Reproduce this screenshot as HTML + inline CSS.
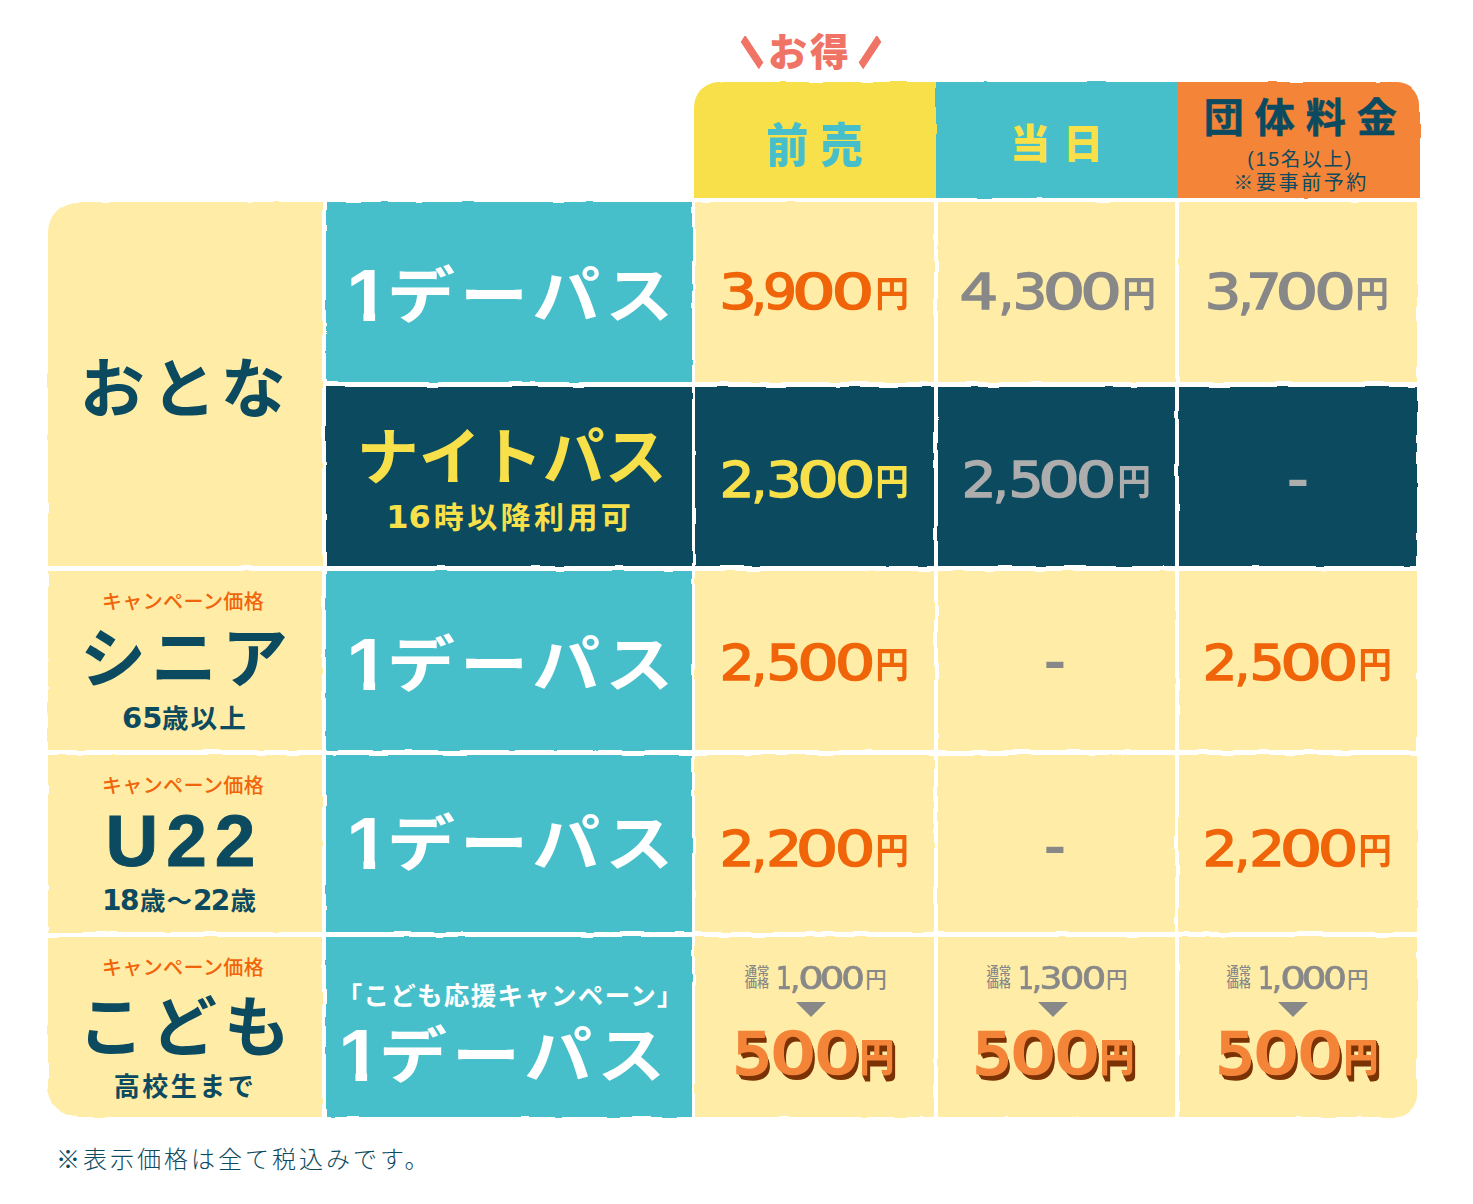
<!DOCTYPE html>
<html lang="ja">
<head>
<meta charset="utf-8">
<title>料金表</title>
<style>
html,body{margin:0;padding:0;background:#fff;}
body{width:1473px;height:1204px;overflow:hidden;position:relative;
  font-family:"Liberation Sans","Noto Sans CJK JP",sans-serif;}
#page{position:absolute;left:0;top:0;width:1473px;height:1204px;background:#fff;overflow:hidden;}
.layer{position:absolute;left:0;top:0;width:1473px;height:1204px;}
#bg{filter:url(#rough);}
.b{position:absolute;}
/* columns */
.c0{left:48px;width:274px;}
.c1{left:326px;width:365.5px;}
.c2{left:695px;width:238.5px;}
.c3{left:937.5px;width:237.5px;}
.c4{left:1179px;width:238px;}
/* rows */
.r1{top:202px;height:180px;}
.r2{top:386.5px;height:179.5px;}
.r3{top:571px;height:179px;}
.r4{top:755px;height:177px;}
.r5{top:937px;height:180px;}
.r12{top:202px;height:364px;}
.pale{background:#FFECA6;}
.teal{background:#47BFCB;}
.navy{background:#0B4A5F;}
.yel{background:#F8E04A;}
.org{background:#F38438;}

/* text layer */
.t{position:absolute;white-space:nowrap;line-height:1;margin:0;padding:0;}
.ctr{text-align:center;}
.navyc{color:#0B4A5F;}

.sl{display:inline-block;vertical-align:top;position:relative;top:4.5px;width:40px;height:36px;color:#F07466;font-weight:900;font-size:23.5px;line-height:36px;letter-spacing:0;text-align:center;-webkit-text-stroke:8.5px #F07466;transform:scaleX(.66);}
/* price */
.pr{position:absolute;white-space:nowrap;height:56px;line-height:56px;font-size:0;}
.pg{display:inline-block;vertical-align:top;position:relative;top:-6px;width:60px;text-align:center;font-family:"DejaVu Sans","Liberation Sans",sans-serif;font-size:49.0px;line-height:56px;height:56px;-webkit-text-stroke:1.5px currentColor;}
.py{display:inline-block;vertical-align:top;position:relative;top:-4.5px;width:60px;text-align:center;font-family:"Liberation Sans","Noto Sans CJK JP",sans-serif;font-weight:700;font-size:35px;line-height:56px;height:56px;transform:scale(.96,1.03);}
.dash{position:absolute;width:40px;margin-left:-20px;height:40px;line-height:40px;text-align:center;font-family:"Liberation Sans",sans-serif;font-weight:700;font-size:52px;color:#888888;transform:scaleX(1.29);}

/* pass labels */
.pass{position:absolute;color:#fff;font-weight:700;font-size:68px;line-height:80px;height:80px;letter-spacing:5px;text-indent:14px;white-space:nowrap;text-align:center;font-family:"Liberation Sans","Noto Sans CJK JP",sans-serif;transform:scaleY(.91);}
.pass .one{display:inline-block;vertical-align:baseline;font-family:"Liberation Sans",sans-serif;font-size:82.0px;line-height:70px;height:70px;width:45.6px;letter-spacing:0;text-indent:0;clip-path:polygon(0 -20px,45.6px -20px,45.6px 53.4px,31.0px 53.4px,31.0px 80px,18.5px 80px,18.5px 53.4px,0 53.4px);margin:0 -4px 0 -8px;position:relative;top:3.6px;transform:scaleX(.93);transform-origin:40% 50%;}
.dg{font-family:"DejaVu Sans","Liberation Sans",sans-serif;font-weight:700;letter-spacing:0;}
.camp{position:absolute;left:46px;width:274px;text-align:center;color:#F0640A;font-weight:500;font-size:20px;line-height:24px;letter-spacing:.4px;white-space:nowrap;}
.big{position:absolute;left:48px;width:274px;text-align:center;color:#0B4A5F;font-weight:700;white-space:nowrap;}
.sub{position:absolute;left:48px;width:274px;text-align:center;color:#0B4A5F;font-weight:700;font-size:26px;line-height:30px;letter-spacing:2.5px;white-space:nowrap;}

/* kids price */
.kl{position:absolute;font-size:12.3px;line-height:12.2px;font-weight:500;color:#888888;white-space:nowrap;}
.kr{position:absolute;white-space:nowrap;height:36px;line-height:36px;font-size:0;color:#888888;}
.kg{display:inline-block;vertical-align:top;position:relative;top:-5.3px;width:40px;text-align:center;font-family:"DejaVu Sans","Liberation Sans",sans-serif;font-size:32.0px;line-height:36px;height:36px;-webkit-text-stroke:0.7px currentColor;}
.ky{display:inline-block;vertical-align:top;position:relative;top:-3.4px;width:40px;text-align:center;font-family:"Liberation Sans","Noto Sans CJK JP",sans-serif;font-weight:500;font-size:21.5px;line-height:36px;height:36px;}
.tri{position:absolute;width:0;height:0;border-left:15px solid transparent;border-right:15px solid transparent;border-top:15px solid #888888;}
.k500{position:absolute;white-space:nowrap;color:#F38438;text-align:center;line-height:70px;height:70px;
 text-shadow:.5px 1px 0 #7B3306,1px 2px 0 #7B3306,1.5px 3px 0 #7B3306,2px 4px 0 #7B3306,2.5px 5px 0 #7B3306,3px 5.5px 0 #7B3306,1px 1px 0 #7B3306,2px 3px 0 #7B3306;}
.k500 .n{display:inline-block;font-family:"DejaVu Sans","Liberation Sans",sans-serif;font-weight:400;font-size:57px;letter-spacing:-1px;-webkit-text-stroke:2.7px #F38438;transform:scaleX(1.25);margin:0 .21em 0 .2em;}
.k500 .five{display:inline-block;transform:scaleX(.86);margin:0 -2.4px 0 -2.4px;}
.k500 .y{display:inline-block;font-family:"Liberation Sans","Noto Sans CJK JP",sans-serif;font-weight:900;font-size:36px;margin-left:1.5px;transform:scale(.97,1.06);transform-origin:50% 50%;position:relative;top:-4px;}
</style>
</head>
<body>
<svg width="0" height="0" style="position:absolute">
  <defs>
    <filter id="rough" x="-2%" y="-2%" width="104%" height="104%" color-interpolation-filters="sRGB">
      <feTurbulence type="fractalNoise" baseFrequency="0.035" numOctaves="2" seed="3" result="n"/>
      <feDisplacementMap in="SourceGraphic" in2="n" scale="3" xChannelSelector="R" yChannelSelector="G" result="d"/>
      <feGaussianBlur in="d" stdDeviation="0.5"/>
    </filter>
  </defs>
</svg>
<div id="page">

<!-- ============ background cells ============ -->
<div id="bg" class="layer">
  <!-- header -->
  <div class="b yel" style="left:693.5px;top:82px;width:243px;height:116px;border-top-left-radius:25px;"></div>
  <div class="b teal" style="left:935.5px;top:82px;width:243px;height:116px;"></div>
  <div class="b org" style="left:1177.3px;top:82px;width:242.7px;height:116px;border-top-right-radius:23px;"></div>
  <!-- col0 -->
  <div class="b pale c0 r12" style="border-top-left-radius:30px;"></div>
  <div class="b pale c0 r3"></div>
  <div class="b pale c0 r4"></div>
  <div class="b pale c0 r5" style="border-bottom-left-radius:30px;"></div>
  <!-- col1 -->
  <div class="b teal c1 r1"></div>
  <div class="b navy c1 r2"></div>
  <div class="b teal c1 r3"></div>
  <div class="b teal c1 r4"></div>
  <div class="b teal c1 r5"></div>
  <!-- col2 -->
  <div class="b pale c2 r1"></div>
  <div class="b navy c2 r2"></div>
  <div class="b pale c2 r3"></div>
  <div class="b pale c2 r4"></div>
  <div class="b pale c2 r5"></div>
  <!-- col3 -->
  <div class="b pale c3 r1"></div>
  <div class="b navy c3 r2"></div>
  <div class="b pale c3 r3"></div>
  <div class="b pale c3 r4"></div>
  <div class="b pale c3 r5"></div>
  <!-- col4 -->
  <div class="b pale c4 r1"></div>
  <div class="b navy c4 r2"></div>
  <div class="b pale c4 r3"></div>
  <div class="b pale c4 r4"></div>
  <div class="b pale c4 r5" style="border-bottom-right-radius:21px;"></div>
</div>

<!-- ============ text ============ -->
<div id="fg" class="layer">

<!-- お得 balloon -->
<div class="t" style="left:732px;top:30.5px;height:44px;color:#F07466;font-weight:900;font-size:39px;line-height:44px;letter-spacing:3px;"><span class="sl" style="margin-right:-4px;">＼</span>お得<span class="sl" style="margin-left:-2px;">／</span></div>

<!-- header labels -->
<div class="t ctr" style="left:693.5px;top:118.5px;width:242px;font-size:42px;line-height:56px;font-weight:900;color:#47BFCB;letter-spacing:12.5px;text-indent:12.5px;transform:scaleY(1.1);">前売</div>
<div class="t ctr" style="left:935.5px;top:115.5px;width:242px;font-size:40px;line-height:56px;font-weight:900;color:#F8E04A;letter-spacing:13px;text-indent:13px;">当日</div>
<div class="t ctr navyc" style="left:1177.3px;top:91.5px;width:242.7px;font-size:40px;line-height:52px;font-weight:700;letter-spacing:11px;text-indent:14px;-webkit-text-stroke:.6px #0B4A5F;">団体料金</div>
<div class="t ctr navyc" style="left:1177.3px;top:147px;width:242.7px;font-size:19.5px;line-height:24px;font-weight:400;letter-spacing:1.8px;text-indent:3px;">(15名以上)</div>
<div class="t ctr navyc" style="left:1177.3px;top:170.5px;width:242.7px;font-size:20px;line-height:24px;font-weight:400;letter-spacing:2.6px;text-indent:5px;">※要事前予約</div>

<!-- left column -->
<div class="big" style="top:352px;font-size:65px;line-height:76px;letter-spacing:6.5px;text-indent:2px;">おとな</div>

<div class="camp" style="top:589.5px;">キャンペーン価格</div>
<div class="big" style="top:621px;font-size:66px;line-height:76px;letter-spacing:5px;text-indent:3px;">シニア</div>
<div class="sub" style="top:703px;font-size:26.5px;letter-spacing:2.2px;text-indent:0;"><span class="dg" style="font-size:29px;margin-right:-.5px;">65</span>歳以上</div>

<div class="camp" style="top:773.5px;">キャンペーン価格</div>
<div class="big" style="top:801px;font-size:73px;line-height:80px;letter-spacing:8px;text-indent:-1px;-webkit-text-stroke:.9px #0B4A5F;">U22</div>
<div class="sub" style="top:886px;font-size:25.5px;letter-spacing:1px;text-indent:-11px;"><span class="dg" style="font-size:28px;letter-spacing:-1.5px;margin-right:2px;">18</span>歳～<span class="dg" style="font-size:28px;letter-spacing:-1.8px;margin-right:2px;">22</span>歳</div>

<div class="camp" style="top:955.5px;">キャンペーン価格</div>
<div class="big" style="top:989.5px;font-size:66px;line-height:76px;letter-spacing:7px;text-indent:5px;">こども</div>
<div class="sub" style="top:1072px;">高校生まで</div>

<!-- pass labels -->
<div class="pass c1" style="top:255.5px;"><span class="one">1</span>デーパス</div>
<div class="t ctr c1" style="top:424px;color:#F8E04A;font-weight:700;font-size:62px;line-height:70px;letter-spacing:0;text-indent:6px;">ナイトパス</div>
<div class="t ctr c1" style="top:499px;color:#F8E04A;font-weight:700;font-size:30px;line-height:36px;letter-spacing:3.4px;text-indent:3px;"><span class="dg" style="font-size:32px;margin-right:3px;">16</span>時以降利用可</div>
<div class="pass c1" style="top:624.5px;"><span class="one">1</span>デーパス</div>
<div class="pass c1" style="top:804px;"><span class="one">1</span>デーパス</div>
<div class="t ctr c1" style="top:979px;color:#fff;font-weight:700;font-size:25.5px;line-height:34px;letter-spacing:1.3px;text-indent:3px;">「こども応援キャンペーン」</div>
<div class="pass c1" style="top:1016px;margin-left:-8px;"><span class="one">1</span>デーパス</div>

<!-- note -->
<div class="t navyc" style="left:56px;top:1142.5px;font-size:24px;line-height:34px;font-weight:300;letter-spacing:3px;">※表示価格は全て税込みです。</div>

<!-- prices row1 -->
<div class="pr" style="left:708.0px;top:271.2px;color:#F0640A;"><span class="pg" style="margin-right:-38.9px;transform:scaleX(1.207);">3</span><span class="pg" style="margin-right:-38.7px;transform:scaleX(1.000);">,</span><span class="pg" style="margin-right:-26.0px;transform:scaleX(1.090);">9</span><span class="pg" style="margin-right:-21.4px;transform:scaleX(1.405);">0</span><span class="pg" style="margin-right:-21.5px;transform:scaleX(1.374);">0</span><span class="py">円</span></div>
<div class="pr" style="left:948.5px;top:271.2px;color:#888888;"><span class="pg" style="margin-right:-32.1px;transform:scaleX(1.243);">4</span><span class="pg" style="margin-right:-36.7px;transform:scaleX(1.000);">,</span><span class="pg" style="margin-right:-26.0px;transform:scaleX(1.107);">3</span><span class="pg" style="margin-right:-22.9px;transform:scaleX(1.367);">0</span><span class="pg" style="margin-right:-22.1px;transform:scaleX(1.336);">0</span><span class="py">円</span></div>
<div class="pr" style="left:1193.3px;top:271.2px;color:#888888;"><span class="pg" style="margin-right:-37.6px;transform:scaleX(1.171);">3</span><span class="pg" style="margin-right:-41.6px;transform:scaleX(1.000);">,</span><span class="pg" style="margin-right:-27.6px;transform:scaleX(1.136);">7</span><span class="pg" style="margin-right:-22.0px;transform:scaleX(1.374);">0</span><span class="pg" style="margin-right:-23.0px;transform:scaleX(1.336);">0</span><span class="py">円</span></div>
<!-- prices row2 -->
<div class="pr" style="left:707.0px;top:459.1px;color:#F8E04A;"><span class="pg" style="margin-right:-37.8px;transform:scaleX(1.112);">2</span><span class="pg" style="margin-right:-35.5px;transform:scaleX(1.000);">,</span><span class="pg" style="margin-right:-25.9px;transform:scaleX(1.143);">3</span><span class="pg" style="margin-right:-22.9px;transform:scaleX(1.336);">0</span><span class="pg" style="margin-right:-22.6px;transform:scaleX(1.306);">0</span><span class="py">円</span></div>
<div class="pr" style="left:948.6px;top:459.1px;color:#ADADAD;"><span class="pg" style="margin-right:-37.8px;transform:scaleX(1.112);">2</span><span class="pg" style="margin-right:-35.0px;transform:scaleX(1.000);">,</span><span class="pg" style="margin-right:-26.5px;transform:scaleX(1.129);">5</span><span class="pg" style="margin-right:-22.9px;transform:scaleX(1.336);">0</span><span class="pg" style="margin-right:-22.6px;transform:scaleX(1.306);">0</span><span class="py">円</span></div>
<div class="dash" style="left:1297.5px;top:458.1px;color:#ADADAD;">-</div>
<!-- prices row3 -->
<div class="pr" style="left:707.0px;top:642.4px;color:#F0640A;"><span class="pg" style="margin-right:-37.8px;transform:scaleX(1.112);">2</span><span class="pg" style="margin-right:-35.0px;transform:scaleX(1.000);">,</span><span class="pg" style="margin-right:-26.5px;transform:scaleX(1.129);">5</span><span class="pg" style="margin-right:-22.9px;transform:scaleX(1.336);">0</span><span class="pg" style="margin-right:-22.6px;transform:scaleX(1.306);">0</span><span class="py">円</span></div>
<div class="dash" style="left:1055.1px;top:640px;">-</div>
<div class="pr" style="left:1190.1px;top:642.4px;color:#F0640A;"><span class="pg" style="margin-right:-37.8px;transform:scaleX(1.112);">2</span><span class="pg" style="margin-right:-35.0px;transform:scaleX(1.000);">,</span><span class="pg" style="margin-right:-26.5px;transform:scaleX(1.129);">5</span><span class="pg" style="margin-right:-22.9px;transform:scaleX(1.336);">0</span><span class="pg" style="margin-right:-22.6px;transform:scaleX(1.306);">0</span><span class="py">円</span></div>
<!-- prices row4 -->
<div class="pr" style="left:707.0px;top:828.3px;color:#F0640A;"><span class="pg" style="margin-right:-37.8px;transform:scaleX(1.112);">2</span><span class="pg" style="margin-right:-35.3px;transform:scaleX(1.000);">,</span><span class="pg" style="margin-right:-26.5px;transform:scaleX(1.145);">2</span><span class="pg" style="margin-right:-22.5px;transform:scaleX(1.367);">0</span><span class="pg" style="margin-right:-22.6px;transform:scaleX(1.306);">0</span><span class="py">円</span></div>
<div class="dash" style="left:1055.1px;top:825.1px;">-</div>
<div class="pr" style="left:1190.1px;top:828.3px;color:#F0640A;"><span class="pg" style="margin-right:-37.8px;transform:scaleX(1.112);">2</span><span class="pg" style="margin-right:-35.3px;transform:scaleX(1.000);">,</span><span class="pg" style="margin-right:-26.5px;transform:scaleX(1.145);">2</span><span class="pg" style="margin-right:-22.5px;transform:scaleX(1.367);">0</span><span class="pg" style="margin-right:-22.6px;transform:scaleX(1.306);">0</span><span class="py">円</span></div>
<!-- kids row -->
<div class="kl" style="left:744.8px;top:966px;">通常<br>価格</div>
<div class="kr" style="left:764.3px;top:965.5px;"><span class="kg" style="margin-right:-29.1px;transform:scaleX(0.780);">1</span><span class="kg" style="margin-right:-24.4px;transform:scaleX(1.000);">,</span><span class="kg" style="margin-right:-18.4px;transform:scaleX(1.260);">0</span><span class="kg" style="margin-right:-19.2px;transform:scaleX(1.212);">0</span><span class="kg" style="margin-right:-17.2px;transform:scaleX(1.159);">0</span><span class="ky">円</span></div>
<div class="tri" style="left:796.0px;top:1002px;"></div>
<div class="k500" style="left:695.5px;top:1019px;width:238px;"><span class="n"><span class="five">5</span>00</span><span class="y">円</span></div>
<div class="kl" style="left:986.5px;top:966px;">通常<br>価格</div>
<div class="kr" style="left:1006.0px;top:965.5px;"><span class="kg" style="margin-right:-29.1px;transform:scaleX(0.780);">1</span><span class="kg" style="margin-right:-26.0px;transform:scaleX(1.000);">,</span><span class="kg" style="margin-right:-18.5px;transform:scaleX(1.121);">3</span><span class="kg" style="margin-right:-18.9px;transform:scaleX(1.212);">0</span><span class="kg" style="margin-right:-16.8px;transform:scaleX(1.206);">0</span><span class="ky">円</span></div>
<div class="tri" style="left:1037.7px;top:1002px;"></div>
<div class="k500" style="left:935.1px;top:1019px;width:238px;"><span class="n"><span class="five">5</span>00</span><span class="y">円</span></div>
<div class="kl" style="left:1226.5px;top:966px;">通常<br>価格</div>
<div class="kr" style="left:1246.0px;top:965.5px;"><span class="kg" style="margin-right:-29.1px;transform:scaleX(0.780);">1</span><span class="kg" style="margin-right:-24.4px;transform:scaleX(1.000);">,</span><span class="kg" style="margin-right:-18.4px;transform:scaleX(1.260);">0</span><span class="kg" style="margin-right:-19.2px;transform:scaleX(1.212);">0</span><span class="kg" style="margin-right:-17.2px;transform:scaleX(1.159);">0</span><span class="ky">円</span></div>
<div class="tri" style="left:1277.6px;top:1002px;"></div>
<div class="k500" style="left:1178.8px;top:1019px;width:238px;"><span class="n"><span class="five">5</span>00</span><span class="y">円</span></div>
</div>

</div>
</body>
</html>
